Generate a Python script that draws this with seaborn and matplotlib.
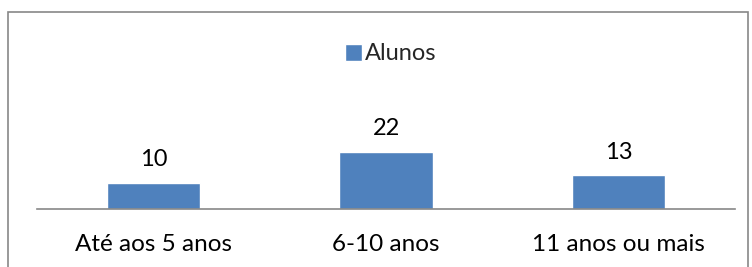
import pandas as pd
import seaborn as sns
import matplotlib.pyplot as plt
from matplotlib.patches import Patch, Rectangle

faixas = ["Até aos 5 anos", "6-10 anos", "11 anos ou mais"]
alunos = [10, 22, 13]

df = pd.DataFrame({"faixa": faixas, "Alunos": alunos})

blue = "#4F81BD"
grey = "#878787"

sns.set_style("white")
plt.rcParams["font.family"] = ["Lato", "DejaVu Sans"]

fig = plt.figure(figsize=(7.52, 2.67), dpi=100)
ax = fig.add_axes([37 / 752, 58 / 267, 698 / 752, 129 / 267])

sns.barplot(data=df, x="faixa", y="Alunos", color=blue, width=0.4,
            saturation=1, ax=ax)
ax.set_ylim(0, 129 / 2.6)
ax.set_xlim(-0.5, 2.5)

ax.bar_label(ax.containers[0], padding=9, fontsize=17, color="black")

ax.set_xlabel("")
ax.set_ylabel("")
ax.set_yticks([])
ax.tick_params(axis="x", length=0, pad=18, labelsize=17.5, labelcolor="black")
for s in ["top", "right", "left"]:
    ax.spines[s].set_visible(False)
ax.spines["bottom"].set_color(grey)
ax.spines["bottom"].set_linewidth(1.2)

# chart border
fig.patches.append(Rectangle((8 / 752, -0.1), 740 / 752, 1.1 - 12 / 267,
                             transform=fig.transFigure, fill=False,
                             edgecolor=grey, linewidth=1.2))

fig.legend(handles=[Patch(facecolor=blue, label="Alunos")],
           loc="center", bbox_to_anchor=(391 / 752, 1 - 54 / 267),
           frameon=False, fontsize=17, handlelength=0.7, handleheight=0.7,
           handletextpad=0.15)

fig.savefig("out.png", dpi=100)
